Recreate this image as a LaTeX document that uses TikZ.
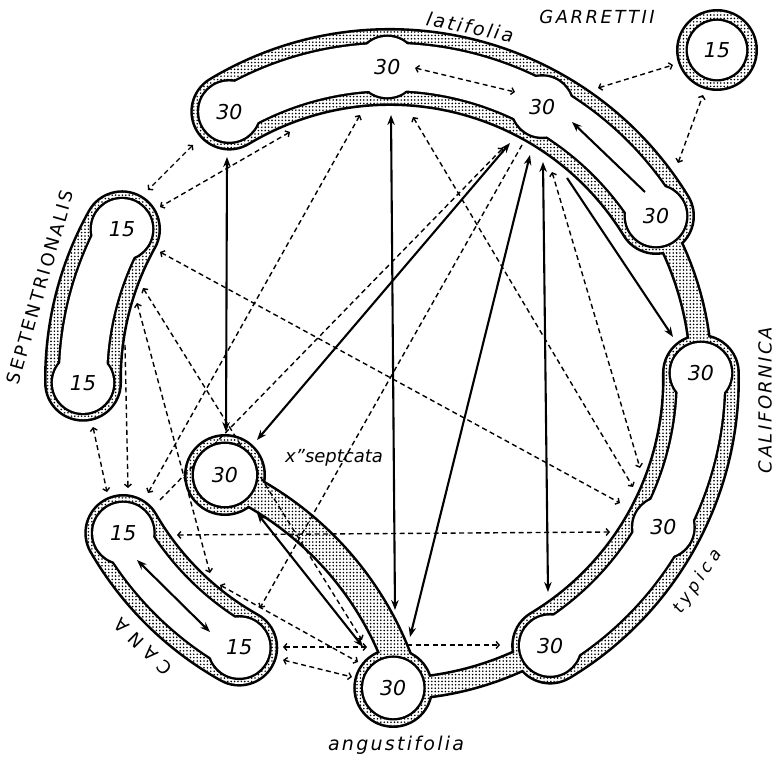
\documentclass[tikz,border=0pt]{standalone}
\usepackage{fontspec}
\setmainfont{DejaVu Sans}
\newfontfamily\capsfont[LetterSpace=14]{DejaVu Sans}
\newfontfamily\namefont[LetterSpace=12]{DejaVu Sans}
\usetikzlibrary{arrows.meta,patterns.meta}

% closed outline of a curved tube: radius, start angle, end angle, half width
\newcommand\tubepath[4]{({#2}:{#1+(#4)})
  arc[start angle={#2}, end angle={#3}, radius={#1+(#4)}]
  arc[start angle={#3}, end angle={#3-180}, radius={#4}]
  arc[start angle={#3}, end angle={#2}, radius={#1-(#4)}]
  arc[start angle={#2+180}, end angle={#2}, radius={#4}] -- cycle}

\begin{document}
\begin{tikzpicture}[x=1pt, y=1pt,
    rim/.style={fill=black},
    wall/.style={pattern={Dots[distance=3.4pt, radius=0.9pt]}, preaction={fill=white}},
    hole/.style={fill=white},
    num/.style={font=\fontsize{20.5}{20.5}\selectfont\itshape},
    taxon/.style={font=\fontsize{19}{19}\namefont\itshape},
    series/.style={font=\fontsize{18}{18}\capsfont},
    solidlink/.style={line width=2.1pt, {Stealth[length=10pt,width=7.5pt]}-{Stealth[length=10pt,width=7.5pt]}},
    solidone/.style={line width=2.1pt, -{Stealth[length=10pt,width=7.5pt]}},
    dashlink/.style={line width=1.4pt, dash pattern=on 5pt off 3.5pt,
      {Straight Barb[length=3pt,width=7pt]}-{Straight Barb[length=3pt,width=7pt]}},
    dashone/.style={line width=1.4pt, dash pattern=on 5pt off 3.5pt, -{Straight Barb[length=3pt,width=7pt]}}
]
\useasboundingbox (0,0) rectangle (775,763);

% centres of the ring and of the septcata stem
\coordinate (O) at (390,384);
\coordinate (P) at (93.7,-12.8);
\path[shift={(O)}]
  (121:312) coordinate (L1) (90.5:312) coordinate (L2) (60.8:312) coordinate (L3) (31.5:312) coordinate (L4)
  (1.1:311) coordinate (C1) (-28.5:311) coordinate (C2) (-59:311) coordinate (T) (-89.4:309) coordinate (A)
  (150.8:307) coordinate (S1) (180.7:307) coordinate (S2) (210:308) coordinate (K1) (240.7:308) coordinate (K2);
\coordinate (X) at (225,288);
\coordinate (G) at (717,713);

% tubes, stems and rings: outline, then dotted wall
\foreach \s/\d in {rim/0, wall/2.6} {
  \path[\s, shift={(O)}] \tubepath{312}{121}{31.5}{39-\d};
  \path[\s, shift={(O)}] \tubepath{311}{1.1}{-59}{39-\d};
  \path[\s, shift={(O)}] \tubepath{307}{180.7}{150.8}{39-\d};
  \path[\s, shift={(O)}] \tubepath{308}{240.7}{210}{39-\d};
  \path[\s, shift={(O)}] \tubepath{311.5}{31.5}{1.1}{12-\d};
  \path[\s, shift={(O)}] \tubepath{310}{-59}{-89.4}{12-\d};
  \path[\s, shift={(P)}] \tubepath{325}{66.4}{20}{16-\d};
  \foreach \b in {L1,L2,L3,L4,C1,C2,T,S1,S2,K1,K2}
    \path[\s] (\b) circle[radius=38-\d];
  \path[\s] (G) circle[radius=41-\d] (X) circle[radius=41-\d] (A) circle[radius=40-\d];
}
% inner channels
\foreach \s/\d in {rim/0, hole/2.4} {
  \path[\s, shift={(O)}] \tubepath{312}{121}{31.5}{25.5-\d};
  \path[\s, shift={(O)}] \tubepath{311}{1.1}{-59}{25.5-\d};
  \path[\s, shift={(O)}] \tubepath{307}{180.7}{150.8}{25.5-\d};
  \path[\s, shift={(O)}] \tubepath{308}{240.7}{210}{25.5-\d};
  \foreach \b in {L1,L2,L3,L4,C1,C2,T,S1,S2,K1,K2}
    \path[\s] (\b) circle[radius=32.5-\d];
  \path[\s] (G) circle[radius=31.5-\d] (A) circle[radius=32.5-\d];
}

% connector ends
\foreach \n/\x/\y in {l1x/227/606, xl1/226/331, l2a/391/648, al2/395/153,
    l3x/510/620, xl3/257/323, l3a/530/608, al3/410/126, l3t/543/601, tl3/548/171,
    xa/257/250, ax/363/116, k1k2/137/203, k2k1/210/131,
    l3c1/567/585, c1l3/673/426, l4l3/645/571, l3l4/572/641,
    l2l3/415/695, l3l2/515/671, l3g/598/675, gl3/673/698, l4g/678/600, gl4/703/668,
    l1s/193/618, sl1/148/573, l1sb/290/631, sl1b/160/556, lk1/360/648, k1l/148/270,
    lc2/413/646, c2l/633/276, l3c2/552/591, c2l3/640/295, sc2/160/511, c2s/620/260,
    k1c2/177/228, c2k1/610/231, s2k1/93/336, k1s2/107/271, sk2/137/460, k2s/210/190,
    k2a/220/178, ak2/358/101, k2ab/283/116, ak2b/367/116, k2ac/283/103, ak2c/352/86,
    sa/143/475, as/362/123, sk1/125/418, k1s/128/275, k1l3/160/263, l3k1/503/615,
    l3k2/522/618, k2l3/260/155, at/407/118, ta/500/118}
  \coordinate (\n) at (\x,\y);

% crossings
\foreach \a/\b in {l1x/xl1, l2a/al2, l3x/xl3, l3a/al3, l3t/tl3, xa/ax, k1k2/k2k1}
  \draw[solidlink] (\a) -- (\b);
\foreach \a/\b in {l3c1/c1l3, l4l3/l3l4}
  \draw[solidone] (\a) -- (\b);
\foreach \a/\b in {l2l3/l3l2, l3g/gl3, l4g/gl4, l1s/sl1, l1sb/sl1b, lk1/k1l, lc2/c2l,
    l3c2/c2l3, sc2/c2s, k1c2/c2k1, s2k1/k1s2, sk2/k2s, k2a/ak2, k2ab/ak2b, k2ac/ak2c, sa/as}
  \draw[dashlink] (\a) -- (\b);
\foreach \a/\b in {sk1/k1s, k1l3/l3k1, l3k2/k2l3, at/ta}
  \draw[dashone] (\a) -- (\b);

% septcata ring drawn last
\path[rim] (X) circle[radius=33.5];
\path[hole] (X) circle[radius=31];

% chromosome numbers
\foreach \b/\v in {L1/30, L2/30, L3/30, L4/30, C1/30, C2/30, T/30, A/30, X/30,
    S1/15, S2/15, K1/15, K2/15, G/15}
  \node[num] (num-\b) at (\b) {\v};

% names
\node[taxon, rotate=-11] (latlab) at (470,736) {latifolia};
\node[series, font=\fontsize{18}{18}\capsfont\itshape] (garlab) at (597,746) {GARRETTII};
\node[series, rotate=74] (seplab) at (40,476) {SEPTENTRIONALIS};
\node[series, font=\fontsize{18}{18}\capsfont\itshape, rotate=90] (callab) at (765,363) {CALIFORNICA};
\node[series, font=\fontsize{18}{18}\capsfont\addfontfeature{LetterSpace=40}, rotate=135] (canlab) at (143,116) {CANA};
\node[taxon, font=\fontsize{17}{17}\namefont\addfontfeature{LetterSpace=25}\itshape, rotate=56] (typlab) at (698,181) {typica};
\node[taxon] (anglab) at (396,18) {angustifolia};
\node[taxon, font=\fontsize{18}{18}\selectfont\itshape] (seplab2) at (334,305) {x"septcata};
\end{tikzpicture}
\end{document}
